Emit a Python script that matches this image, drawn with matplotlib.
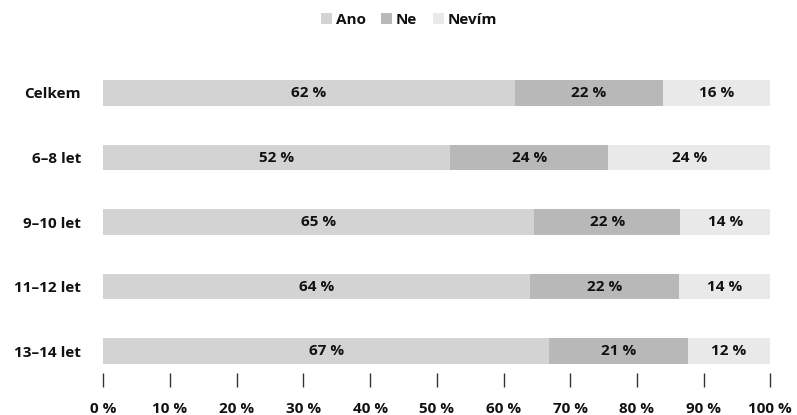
import matplotlib
matplotlib.use("Agg")
import matplotlib.pyplot as plt
import numpy as np

categories = ["Celkem", "6–8 let", "9–10 let", "11–12 let", "13–14 let"]
series_names = ["Ano", "Ne", "Nevím"]
ano = [61.7, 52.0, 64.6, 63.9, 66.8]
ne = [22.2, 23.7, 21.9, 22.4, 20.8]
nevim = [16.1, 24.3, 13.6, 13.7, 12.4]
xticks = [0, 10, 20, 30, 40, 50, 60, 70, 80, 90, 100]
colors = ["#d3d3d3", "#b8b8b8", "#e9e9e9"]

plt.rcParams['font.family'] = ['Open Sans', 'DejaVu Sans']
W, H = 797, 415
fig = plt.figure(figsize=(W / 100, H / 100), dpi=100)

FS = 11
FW = "bold"
TXT = "#111111"
left_px, right_px = 103.3, 770.3
top_px, bot_px = 70, 373
ax = fig.add_axes([left_px / W, 1 - bot_px / H, (right_px - left_px) / W, (bot_px - top_px) / H])

y = np.arange(len(categories))
series = [ano, ne, nevim]
lefts = np.zeros(len(categories))
handles = []
for name, vals, c in zip(series_names, series, colors):
    vals = np.array(vals)
    b = ax.barh(y, vals, left=lefts, height=0.4, color=c, label=name)
    handles.append(b)
    for yi, l, v in zip(y, lefts, vals):
        ax.text(l + v / 2, yi, f"{int(round(v))} %", ha="center", va="center",
                fontsize=FS, fontweight=FW, color=TXT)
    lefts = lefts + vals

ax.set_xlim(0, 100)
spacing = 64.5
ax.set_ylim(4 + (bot_px - 351) / spacing, -(93 - top_px) / spacing)
ax.set_yticks(y)
ax.set_yticklabels(categories, fontsize=FS, fontweight=FW, color=TXT)
ax.tick_params(axis="y", length=0, pad=16)
ax.set_xticks(xticks)
ax.set_xticklabels([f"{t} %" for t in xticks], fontsize=FS, fontweight=FW, color=TXT)
ax.tick_params(axis="x", length=10, width=1, color="#333333", pad=11, direction="out")
for s in ax.spines.values():
    s.set_visible(False)

fig.legend(handles=handles, labels=series_names, loc="center", bbox_to_anchor=(409 / W, 1 - 19.5 / H),
           ncol=3, frameon=False, prop={"weight": FW, "size": FS},
           handlelength=0.73, handleheight=0.73, handletextpad=0.25, columnspacing=1.0,
           borderpad=0.2)
for t in fig.legends[0].get_texts():
    t.set_color(TXT)

fig.savefig("out.png", dpi=100)
